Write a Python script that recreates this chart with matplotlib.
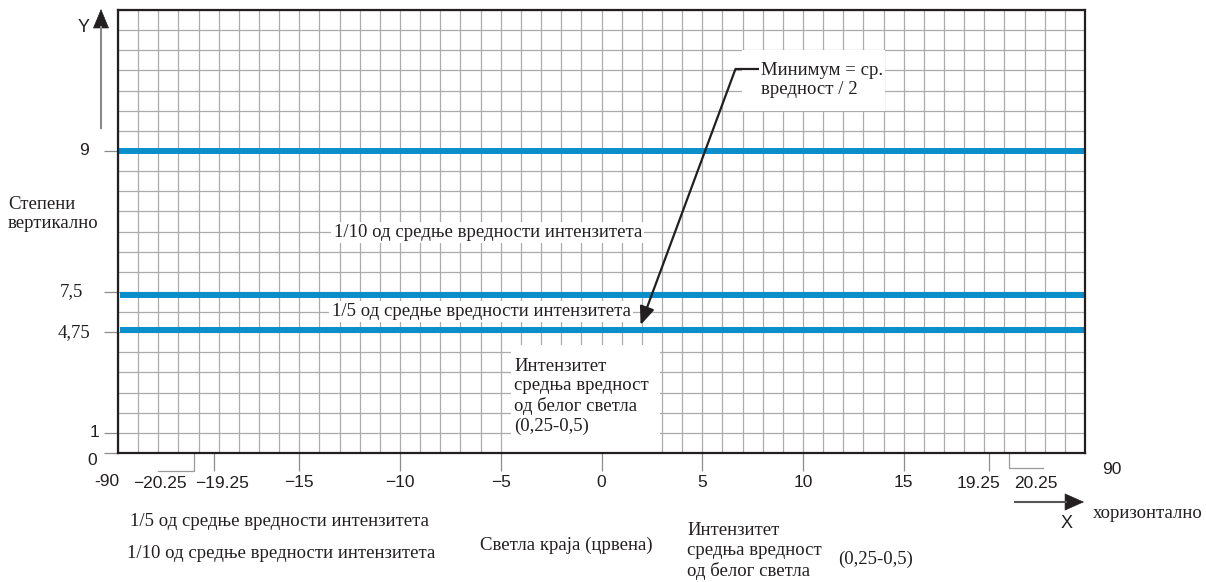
import matplotlib
matplotlib.use('Agg')
import matplotlib.pyplot as plt
import matplotlib.transforms as mtransforms
import numpy as np
from matplotlib.patches import Rectangle, FancyArrowPatch

# Подаци са дијаграма (положаји у јединицама мреже)
level_labels = ['9', '7,5', '4,75']
level_pos = [15.02, 7.85, 6.1]
level_start = [-24, -23.9, -23.9]

y_tick_pos = [0, 1, 6, 8, 15]
y_tick_labels = ['0', '1', '4,75', '7,5', '9']

x_tick_vals = [-19.25, -15, -10, -5, 0, 5, 10, 15, 19.25]
x_tick_labels = ['', '\u221215', '\u221210', '\u22125', '0', '5', '10', '15', '']
x_bracket_vals = [-20.25, 20.25]

W, H = 1206, 582
SERIF = 'Liberation Serif'
SANS = 'Liberation Sans'
BLUE = '#0a8fcb'
GRID = '#ababab'
INK = '#231f20'


def fp(x, y):
    # пиксели слике (од горе) -> координате фигуре
    return x / W, 1 - y / H


fig = plt.figure(figsize=(W / 100, H / 100), dpi=100)
ax = fig.add_axes([118 / W, 1 - 453 / H, (1085 - 118) / W, (453 - 10) / H])
ax.set_xlim(-24, 24)
ax.set_ylim(0, 22)

# мрежа
for v in np.arange(-24, 25):
    ax.axvline(v, color=GRID, lw=0.9, zorder=0)
for h in np.arange(0, 23):
    ax.axhline(h, color=GRID, lw=0.9, zorder=0)

for s in ax.spines.values():
    s.set_color(INK)
    s.set_linewidth(1.6)
    s.set_zorder(5)

# плаве линије
for lab, pos, x0 in zip(level_labels, level_pos, level_start):
    ax.hlines(pos, x0, 24, color=BLUE, lw=4.3, zorder=3)

# Y подеоци
ax.set_yticks(y_tick_pos, labels=[''] * len(y_tick_pos))
ax.tick_params(axis='y', length=10, width=0.9, color='#8c8c8c', direction='out')
ytrans = mtransforms.blended_transform_factory(fig.transFigure, ax.transData)
y_label_right = [97, 99, 90, 83, 89]
for pos, lab, xr in zip(y_tick_pos, y_tick_labels, y_label_right):
    serif = ',' in lab
    va = 'top' if lab == '0' else 'center'
    ax.text(xr / W, pos, lab, transform=ytrans, ha='right', va=va,
            fontsize=13.5 if serif else 12.5, family=SERIF if serif else SANS, color=INK)

# X подеоци
ax.set_xticks(x_tick_vals, labels=x_tick_labels)
ax.tick_params(axis='x', length=13, width=0.9, color='#8c8c8c', direction='out', pad=3,
               labelsize=12.5, labelcolor=INK)
for t in ax.get_xticklabels():
    t.set_family(SANS)
ax.text(-19.25 + 8 / 20.15, -1.49, '\u221219.25', ha='center', va='center', fontsize=12.5,
        family=SANS, color=INK, clip_on=False)
ax.text(19.25 - 11 / 20.15, -1.49, '19.25', ha='center', va='center', fontsize=12.5,
        family=SANS, color=INK, clip_on=False)

# -20.25 / 20.25 са заградом
ax.plot([x_bracket_vals[0]] * 2 + [-22.0], [0, -0.9, -0.9], color='#9a9a9a', lw=0.9, clip_on=False)
ax.plot([x_bracket_vals[1]] * 2 + [21.9], [0, -0.75, -0.75], color='#9a9a9a', lw=0.9, clip_on=False)
ax.text(-21.9, -1.49, '\u221220.25', ha='center', va='center', fontsize=12.5, family=SANS,
        color=INK, clip_on=False)
ax.text(21.55, -1.49, '20.25', ha='center', va='center', fontsize=12.5, family=SANS,
        color=INK, clip_on=False)

# натписи унутар мреже
box = dict(facecolor='white', edgecolor='none', pad=1.5)
ax.text(-13.3, 10.94, '1/10 од средње вредности интензитета', ha='left', va='center',
        fontsize=13.5, family=SERIF, color=INK, bbox=box, zorder=4)
ax.text(-13.4, 7.02, '1/5 од средње вредности интензитета', ha='left', va='center',
        fontsize=13.5, family=SERIF, color=INK, bbox=box, zorder=4)

ax.add_patch(Rectangle((-4.47, 0), 7.35, 5.37, facecolor='white', edgecolor='none', zorder=2))
ax.text(-4.32, 2.82, 'Интензитет\nсредња вредност\nод белог светла\n(0,25-0,5)', ha='left',
        va='center', fontsize=13.5, family=SERIF, color=INK, linespacing=1.2, zorder=4)

ax.add_patch(Rectangle((6.97, 17.0), 7.08, 3.0, facecolor='white', edgecolor='none', zorder=2))
ax.text(7.9, 18.53, 'Минимум = ср.\nвредност / 2', ha='left', va='center', fontsize=13.5,
        family=SERIF, color=INK, linespacing=1.2, zorder=4)

# стрелица за минимум
ax.plot([7.8, 6.65], [19.07, 19.07], color=INK, lw=1.6, zorder=4, solid_capstyle='butt')
ax.add_patch(FancyArrowPatch((6.65, 19.07), (1.94, 6.36), arrowstyle='-|>,head_length=11,head_width=4.5',
                             mutation_scale=1, color=INK, lw=1.6, shrinkA=0, shrinkB=0, zorder=4))

# осе са стрелицама (ван мреже)
fig.add_artist(plt.Line2D(*zip(fp(101, 128), fp(101, 27)), transform=fig.transFigure,
                          color='#8a8a8a', lw=1.5))
fig.add_artist(FancyArrowPatch(fp(101, 28), fp(101, 9), transform=fig.transFigure,
                               arrowstyle='-|>,head_length=13,head_width=5.4', mutation_scale=1,
                               color=INK, lw=0.5, shrinkA=0, shrinkB=0))
fig.add_artist(plt.Line2D(*zip(fp(1015, 502), fp(1066, 502)), transform=fig.transFigure,
                          color='#555555', lw=1.5))
fig.add_artist(FancyArrowPatch(fp(1065, 502), fp(1084, 502), transform=fig.transFigure,
                               arrowstyle='-|>,head_length=13,head_width=5.8', mutation_scale=1,
                               color=INK, lw=0.5, shrinkA=0, shrinkB=0))

fig.text(*fp(84, 27), 'Y', ha='center', va='center', fontsize=13, family=SANS, color=INK)
fig.text(*fp(1067, 524), 'X', ha='center', va='center', fontsize=13, family=SANS, color=INK)
fig.text(*fp(107, 482), '-90', ha='center', va='center', fontsize=12.5, family=SANS, color=INK)
fig.text(*fp(1112, 469), '90', ha='center', va='center', fontsize=12.5, family=SANS, color=INK)

fig.text(*fp(8, 214), 'Степени\nвертикално', ha='left', va='center', fontsize=13.5, family=SERIF,
         color=INK, linespacing=1.2)
fig.text(*fp(1093, 514), 'хоризонтално', ha='left', va='center', fontsize=13.5, family=SERIF, color=INK)

# натписи испод дијаграма
fig.text(*fp(130, 521), '1/5 од средње вредности интензитета', ha='left', va='center',
         fontsize=13.5, family=SERIF, color=INK)
fig.text(*fp(127, 553), '1/10 од средње вредности интензитета', ha='left', va='center',
         fontsize=13.5, family=SERIF, color=INK)
fig.text(*fp(480, 545), 'Светла краја (црвена)', ha='left', va='center', fontsize=13.5,
         family=SERIF, color=INK)
fig.text(*fp(687, 551), 'Интензитет\nсредња вредност\nод белог светла', ha='left', va='center',
         fontsize=13.5, family=SERIF, color=INK, linespacing=1.2)
fig.text(*fp(838, 559), '(0,25-0,5)', ha='left', va='center', fontsize=13.5, family=SERIF, color=INK)

plt.savefig('out.png', dpi=100)
